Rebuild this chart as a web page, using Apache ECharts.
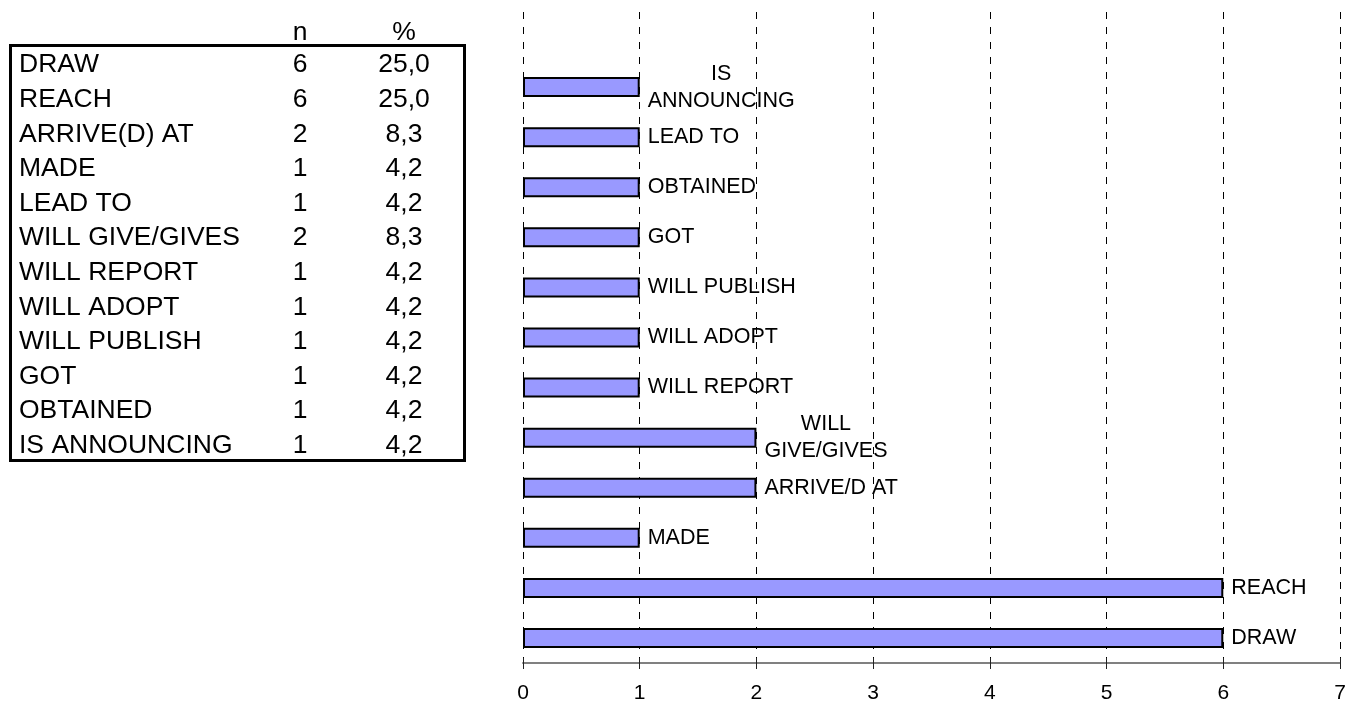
<!DOCTYPE html>
<html>
<head>
<meta charset="utf-8">
<title>Verb frequencies</title>
<script src="https://cdn.jsdelivr.net/npm/echarts@6/dist/echarts.min.js"></script>
<style>
  html, body { margin: 0; padding: 0; background: #fff; }
  #chart { width: 1347px; height: 701px; }
</style>
</head>
<body>
<div id="chart"></div>
<script>
// Summary table (left)
const tableHeader = ['n', '%'];
const tableNames = ['DRAW', 'REACH', 'ARRIVE(D) AT', 'MADE', 'LEAD TO', 'WILL GIVE/GIVES',
  'WILL REPORT', 'WILL ADOPT', 'WILL PUBLISH', 'GOT', 'OBTAINED', 'IS ANNOUNCING'];
const tableN = [6, 6, 2, 1, 1, 2, 1, 1, 1, 1, 1, 1];
const tablePct = ['25,0', '25,0', '8,3', '4,2', '4,2', '8,3', '4,2', '4,2', '4,2', '4,2', '4,2', '4,2'];

// Bar chart categories, bottom to top
const barCategories = ['DRAW', 'REACH', 'MADE', 'ARRIVE/D AT', 'WILL\nGIVE/GIVES', 'WILL REPORT',
  'WILL ADOPT', 'WILL PUBLISH', 'GOT', 'OBTAINED', 'LEAD TO', 'IS\nANNOUNCING'];
const barValues = [6, 6, 1, 2, 2, 1, 1, 1, 1, 1, 1, 1];
const xTicks = [0, 1, 2, 3, 4, 5, 6, 7];

const FONT = '"Liberation Sans", Arial, Helvetica, sans-serif';
const TABLE_FONT = '26.5px ' + FONT;

// Table drawn as graphic text
const graphics = [];
graphics.push({
  type: 'rect',
  shape: { x: 10.5, y: 45.5, width: 454, height: 415 },
  style: { fill: 'none', stroke: '#000', lineWidth: 3 },
  silent: true
});
const colX = [300, 404];
tableHeader.forEach((h, i) => {
  graphics.push({
    type: 'text', x: colX[i], y: 33,
    style: { text: h, font: TABLE_FONT, fill: '#000', textAlign: 'center', textVerticalAlign: 'middle' }
  });
});
const rowY0 = 65, rowStep = 34.6;
tableNames.forEach((name, i) => {
  const y = rowY0 + i * rowStep;
  graphics.push({
    type: 'text', x: 19, y: y,
    style: { text: name, font: TABLE_FONT, fill: '#000', textAlign: 'left', textVerticalAlign: 'middle' }
  });
  graphics.push({
    type: 'text', x: colX[0], y: y,
    style: { text: String(tableN[i]), font: TABLE_FONT, fill: '#000', textAlign: 'center', textVerticalAlign: 'middle' }
  });
  graphics.push({
    type: 'text', x: colX[1], y: y,
    style: { text: tablePct[i], font: TABLE_FONT, fill: '#000', textAlign: 'center', textVerticalAlign: 'middle' }
  });
});

const chart = echarts.init(document.getElementById('chart'), null, { renderer: 'canvas' });
chart.setOption({
  animation: false,
  backgroundColor: '#fff',
  textStyle: { fontFamily: FONT },
  grid: { left: 523, right: 7, top: 12, bottom: 38, outerBoundsMode: 'none', containLabel: false },
  xAxis: [{
    type: 'value',
    min: xTicks[0],
    max: xTicks[xTicks.length - 1],
    interval: 1,
    axisLine: { show: true, lineStyle: { color: '#808080', width: 2 } },
    axisTick: { show: true, inside: false, length: 6, lineStyle: { color: '#222', width: 1 } },
    axisLabel: { fontSize: 21, color: '#000', margin: 20, fontFamily: FONT },
    splitLine: { show: true, lineStyle: { color: '#000', width: 1, type: [7, 8] } }
  }, {
    type: 'value',
    min: xTicks[0],
    max: xTicks[xTicks.length - 1],
    interval: 1,
    position: 'bottom',
    axisLine: { show: false },
    axisTick: { show: true, inside: true, length: 5, lineStyle: { color: '#222', width: 1 } },
    axisLabel: { show: false },
    splitLine: { show: false }
  }],
  yAxis: {
    type: 'category',
    data: barCategories,
    max: barCategories.length,
    axisLine: { show: false },
    axisTick: { show: false },
    axisLabel: { show: false },
    splitLine: { show: false }
  },
  series: [{
    type: 'bar',
    xAxisIndex: 0,
    data: barValues,
    barWidth: 20,
    itemStyle: { color: '#9999ff', borderColor: '#000', borderWidth: 2 },
    label: {
      show: true,
      position: 'right',
      distance: 8,
      formatter: p => p.name.split('\n').map(s => '{c|' + s + '}').join('\n'),
      rich: {
        c: { fontSize: 21.5, color: '#000', align: 'center', lineHeight: 27, fontFamily: FONT }
      }
    }
  }],
  graphic: graphics
});
</script>
</body>
</html>
